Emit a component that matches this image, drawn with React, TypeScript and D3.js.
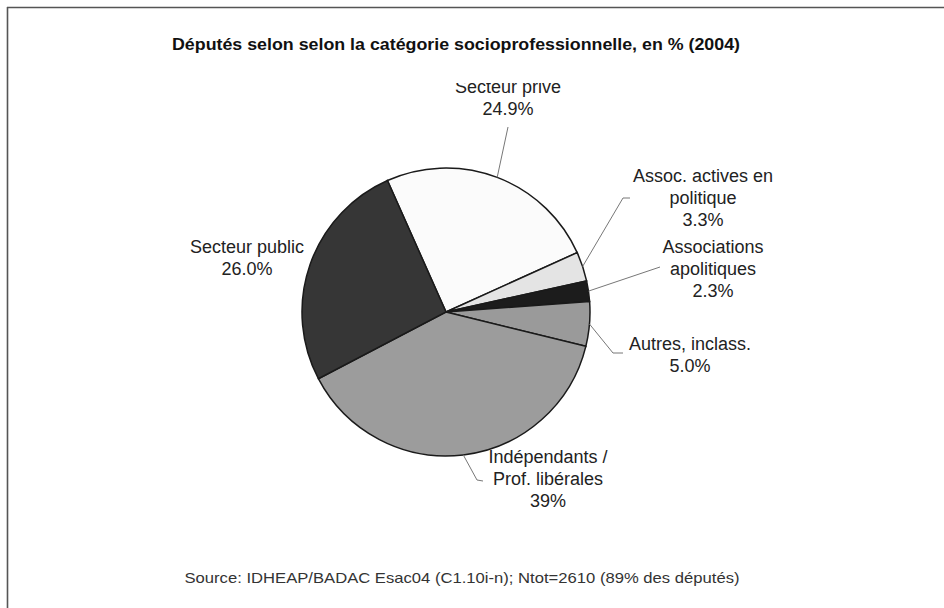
import React from "react";
import * as d3 from "d3";

const categories = [
  "Secteur privé",
  "Assoc. actives en politique",
  "Associations apolitiques",
  "Autres, inclass.",
  "Indépendants / Prof. libérales",
  "Secteur public",
];
const values = [24.9, 3.3, 2.3, 5.0, 38.5, 26.0];
const valueLabels = ["24.9%", "3.3%", "2.3%", "5.0%", "39%", "26.0%"];
const labelLines = [
  ["Secteur privé"],
  ["Assoc. actives en", "politique"],
  ["Associations", "apolitiques"],
  ["Autres, inclass."],
  ["Indépendants /", "Prof. libérales"],
  ["Secteur public"],
];
const colors = ["#fbfbfb", "#e4e4e4", "#1c1c1c", "#9a9a9a", "#9c9c9c", "#363636"];

const title = "Députés selon selon la catégorie socioprofessionnelle, en % (2004)";
const source = "Source: IDHEAP/BADAC Esac04  (C1.10i-n); Ntot=2610 (89% des députés)";

// layout (positions only)
const W = 944, H = 608;
const cx = 446, cy = 312, R = 144;
const labelLayout = [
  { x: 508, y: 93, elbows: [[508, 127]] },
  { x: 703, y: 182, elbows: [[623, 198], [630, 198]] },
  { x: 713, y: 253, elbows: [[660, 267]] },
  { x: 690, y: 350, elbows: [[613, 353], [623, 353]] },
  { x: 548, y: 463, elbows: [[477, 480], [483, 481]] },
  { x: 247, y: 253, elbows: [] as number[][] },
];

export default function App() {
  const pie = d3
    .pie<number>()
    .sort(null)
    .value((d) => d)
    .startAngle((-24 * Math.PI) / 180)
    .endAngle((336 * Math.PI) / 180);
  const arcs = pie(values);
  const arc = d3.arc<d3.PieArcDatum<number>>().innerRadius(0).outerRadius(R);
  const line = d3.line();

  return (
    <svg
      width={W}
      height={H}
      style={{ position: "absolute", left: 0, top: 0, background: "#fff" }}
      fontFamily="'Liberation Sans', Arial, sans-serif"
    >
      <defs>
        <clipPath id="topclip">
          <rect x={0} y={83} width={W} height={H} />
        </clipPath>
      </defs>
      <rect x={0} y={0} width={W} height={H} fill="#fff" />
      <line x1={7} y1={7.5} x2={W} y2={7.5} stroke="#555" strokeWidth={1.6} />
      <line x1={7.5} y1={7} x2={7.5} y2={H} stroke="#555" strokeWidth={1.6} />

      <text
        x={456}
        y={50}
        textAnchor="middle"
        fontWeight="bold"
        fontSize={17}
        fill="#111"
        textLength={568}
        lengthAdjust="spacingAndGlyphs"
      >
        {title}
      </text>

      <g transform={`translate(${cx},${cy})`}>
        {arcs.map((a, i) => (
          <path key={i} d={arc(a) || ""} fill={colors[i]} stroke="#1a1a1a" strokeWidth={1.5} />
        ))}
      </g>

      {arcs.map((a, i) => {
        const lay = labelLayout[i];
        if (!lay.elbows.length) return null;
        const mid = (a.startAngle + a.endAngle) / 2;
        const start: [number, number] = [cx + R * Math.sin(mid), cy - R * Math.cos(mid)];
        const pts = [start, ...lay.elbows.map((p) => [p[0], p[1]] as [number, number])];
        return <path key={"l" + i} d={line(pts) || ""} fill="none" stroke="#777" strokeWidth={1} />;
      })}

      {categories.map((c, i) => {
        const lay = labelLayout[i];
        const lines = [...labelLines[i], valueLabels[i]];
        return (
          <text
            key={"t" + i}
            x={lay.x}
            y={lay.y}
            textAnchor="middle"
            fontSize={18}
            fill="#222"
            clipPath={i === 0 ? "url(#topclip)" : undefined}
          >
            {lines.map((t, j) => (
              <tspan key={j} x={lay.x} dy={j === 0 ? 0 : 22}>
                {t}
              </tspan>
            ))}
          </text>
        );
      })}

      <text
        x={462}
        y={583}
        textAnchor="middle"
        fontSize={15}
        fill="#333"
        textLength={555}
        lengthAdjust="spacingAndGlyphs"
      >
        {source}
      </text>
    </svg>
  );
}
